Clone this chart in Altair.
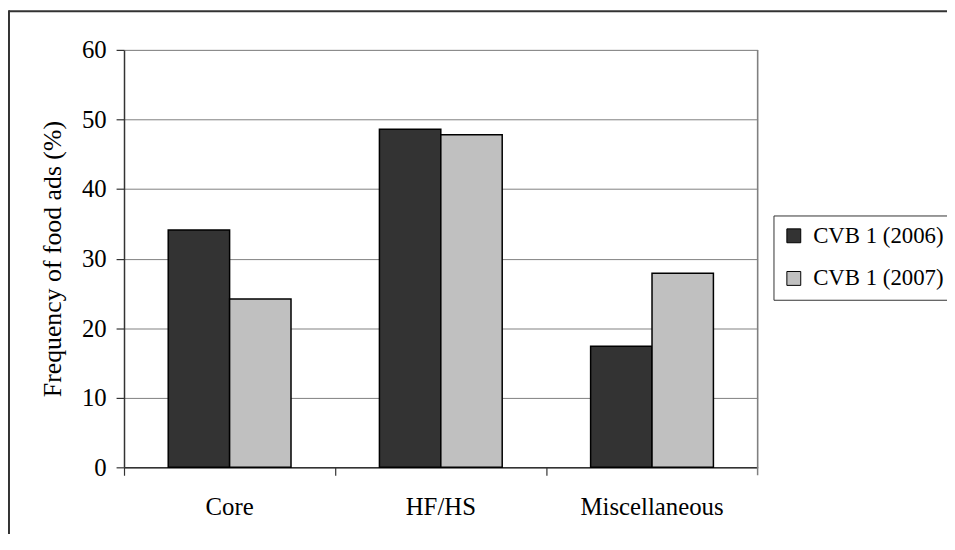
import altair as alt
import pandas as pd

categories = ["Core", "HF/HS", "Miscellaneous"]
series = ["CVB 1 (2006)", "CVB 1 (2007)"]
values_2006 = [34.1, 48.6, 17.4]
values_2007 = [24.2, 47.8, 27.9]
colors = ["#333333", "#c0c0c0"]
y_ticks = [0, 10, 20, 30, 40, 50, 60]

rows = []
for c, a, b in zip(categories, values_2006, values_2007):
    rows.append({"category": c, "series": series[0], "value": a})
    rows.append({"category": c, "series": series[1], "value": b})
df = pd.DataFrame(rows)

FONT = "'Liberation Serif', 'Times New Roman', Times, serif"
W, H = 639, 421

bars = alt.Chart(df).mark_bar(stroke="black", strokeWidth=1.5).encode(
    x=alt.X(
        "category:N",
        sort=categories,
        scale=alt.Scale(paddingInner=0, paddingOuter=0),
        axis=alt.Axis(
            title=None, labelAngle=0, labelFont=FONT, labelFontSize=25,
            labelColor="black", labelBaseline="alphabetic", labelPadding=40,
            tickSize=8, ticks=True, bandPosition=0, domainColor="#333333",
            tickColor="#333333", domainWidth=1.5, tickWidth=1.2, grid=False,
        ),
    ),
    xOffset=alt.XOffset("series:N", sort=series,
                        scale=alt.Scale(paddingInner=0, paddingOuter=0.72)),
    y=alt.Y(
        "value:Q",
        scale=alt.Scale(domain=[0, 60], nice=False),
        axis=alt.Axis(
            values=y_ticks, tickSize=8, labelPadding=10, labelFont=FONT,
            labelFontSize=25, labelColor="black", gridColor="#808080",
            gridWidth=1, domainColor="#333333", tickColor="#333333",
            domainWidth=1.5, tickWidth=1.2,
            title="Frequency of food ads (%)", titleFont=FONT, titleFontSize=26,
            titleFontWeight="normal", titleColor="black", titleX=-64,
            titleY=H / 2, titleAngle=270, titleBaseline="alphabetic",
            titleAlign="center",
        ),
    ),
    color=alt.Color(
        "series:N",
        scale=alt.Scale(domain=series, range=colors),
        legend=alt.Legend(
            title=None, orient="none", legendX=655, legendY=167,
            symbolType="square", symbolSize=196, symbolStrokeColor="black",
            symbolStrokeWidth=1, labelFont=FONT, labelFontSize=23,
            labelColor="black", padding=9, rowPadding=19, labelOffset=8,
            strokeColor="#333333", fillColor="white",
        ),
    ),
)

one = pd.DataFrame({"k": [0]})
right_line = alt.Chart(one).mark_rule(color="#808080", strokeWidth=1.5).encode(
    x=alt.value(W), y=alt.value(0), y2=alt.value(H + 8)
)
frame_top = alt.Chart(one).mark_rule(color="#333333", strokeWidth=2).encode(
    x=alt.value(-116), x2=alt.value(W + 200), y=alt.value(-39)
)
frame_left = alt.Chart(one).mark_rule(color="#333333", strokeWidth=2).encode(
    x=alt.value(-116), y=alt.value(-40), y2=alt.value(H + 80)
)

chart = alt.layer(right_line, bars, frame_top, frame_left).properties(
    width=W, height=H,
    padding={"left": 117, "top": 40, "right": 191, "bottom": 65},
    autosize=alt.AutoSizeParams(type="none"),
).configure_view(stroke=None).configure(background="white")

chart.save("out.html", embed_options={"renderer": "svg", "actions": False})
